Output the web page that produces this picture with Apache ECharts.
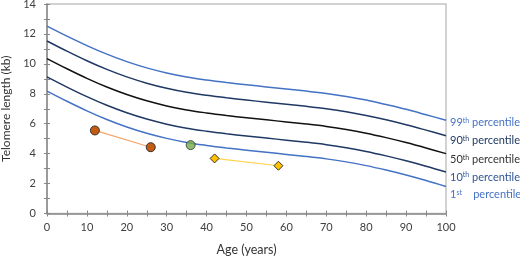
<!DOCTYPE html>
<html>
<head>
<meta charset="utf-8">
<script src="https://cdn.jsdelivr.net/npm/echarts@6/dist/echarts.min.js"></script>
<style>
  html, body { margin: 0; padding: 0; background: #fff; }
  #chart { width: 520px; height: 256px; }
</style>
</head>
<body>
<div id="chart"></div>
<script>
const ages = [0, 5, 10, 15, 20, 25, 30, 35, 40, 45, 50, 55, 60, 65, 70, 75, 80, 85, 90, 95, 100];

const p99 = [12.52, 11.85, 11.22, 10.65, 10.15, 9.73, 9.39, 9.12, 8.92, 8.75, 8.6, 8.46, 8.32, 8.18, 8.02, 7.82, 7.58, 7.28, 6.96, 6.6, 6.23];
const p90 = [11.53, 10.85, 10.21, 9.63, 9.13, 8.71, 8.37, 8.1, 7.9, 7.73, 7.58, 7.44, 7.3, 7.16, 7.0, 6.8, 6.55, 6.26, 5.93, 5.57, 5.2];
const p50 = [10.35, 9.67, 9.03, 8.45, 7.95, 7.53, 7.19, 6.92, 6.72, 6.55, 6.4, 6.26, 6.12, 5.98, 5.82, 5.62, 5.37, 5.07, 4.74, 4.38, 4.0];
const p10 = [9.13, 8.45, 7.81, 7.23, 6.73, 6.31, 5.97, 5.7, 5.5, 5.33, 5.18, 5.04, 4.9, 4.76, 4.6, 4.4, 4.15, 3.85, 3.52, 3.16, 2.77];
const p1 = [8.18, 7.5, 6.86, 6.28, 5.78, 5.36, 5.02, 4.75, 4.55, 4.38, 4.23, 4.09, 3.95, 3.81, 3.65, 3.45, 3.2, 2.9, 2.57, 2.2, 1.8];

const orangeAges = [12, 26];
const orangeValues = [5.55, 4.43];
const greenAges = [36];
const greenValues = [4.57];
const yellowAges = [42, 58];
const yellowValues = [3.68, 3.19];

const xTicks = [0, 10, 20, 30, 40, 50, 60, 70, 80, 90, 100];
const yTicks = [0, 2, 4, 6, 8, 10, 12, 14];

const font = "Lato, 'Open Sans', sans-serif";
const pair = (xs, ys) => xs.map((x, i) => [x, ys[i]]);

const curves = [
  { num: "99", sup: "th", gap: " ", values: p99, color: "#4472C4", text: "#4472C4", dy: 2 },
  { num: "90", sup: "th", gap: " ", values: p90, color: "#1F3864", text: "#1F3864", dy: 5 },
  { num: "50", sup: "th", gap: " ", values: p50, color: "#111111", text: "#333333", dy: 6 },
  { num: "10", sup: "th", gap: " ", values: p10, color: "#1F3864", text: "#2F5597", dy: 5 },
  { num: "1", sup: "st", gap: "    ", values: p1, color: "#4472C4", text: "#4472C4", dy: 8 },
];

const curveSeries = curves.map((c) => ({
  type: "line",
  data: pair(ages, c.values),
  smooth: 0.35,
  symbol: "none",
  lineStyle: { color: c.color, width: 1.5 },
  endLabel: {
    show: true,
    distance: 4,
    offset: [0, c.dy],
    formatter: () => `{n|${c.num}}{s|${c.sup}}{p|${c.gap}percentile}`,
    rich: {
      n: { fontFamily: font, fontSize: 11, color: c.text },
      s: { fontFamily: font, fontSize: 7, color: c.text, verticalAlign: "top", padding: [0, 0, 4, 0] },
      p: { fontFamily: font, fontSize: 11, color: c.text },
    },
  },
  z: 2,
}));

const markerBorder = { borderColor: "#333333", borderWidth: 1 };
const tickStyle = { color: "#888" };

const chart = echarts.init(document.getElementById("chart"));
chart.setOption({
  animation: false,
  grid: {
    left: 47, right: 74, top: 4, bottom: 42.5,
    containLabel: false, outerBoundsMode: "none",
    show: true, borderColor: "#c4c4c4", borderWidth: 1.5,
  },
  xAxis: [
    {
      type: "value", min: 0, max: 100, interval: 10,
      name: "Age (years)", nameLocation: "middle", nameGap: 30,
      nameTextStyle: { fontFamily: font, fontSize: 12.5, color: "#333" },
      axisLine: { show: true, lineStyle: { color: "#888", width: 1.5 } },
      axisTick: { show: true, length: 3, lineStyle: tickStyle },
      minorTick: { show: true, splitNumber: 2, length: 3, lineStyle: tickStyle },
      axisLabel: {
        fontFamily: font, fontSize: 11, color: "#404040", margin: 8,
        formatter: (v) => (xTicks.includes(v) ? String(v) : ""),
      },
      splitLine: { show: false },
    },
    {
      type: "value", min: 0, max: 100, interval: 10, position: "bottom",
      axisLine: { show: false },
      axisTick: { show: true, inside: true, length: 3, lineStyle: tickStyle },
      minorTick: { show: true, splitNumber: 2, length: 3, lineStyle: tickStyle },
      axisLabel: { show: false },
      splitLine: { show: false },
    },
  ],
  yAxis: [
    {
      type: "value", min: 0, max: 14, interval: 2,
      name: "Telomere length (kb)", nameLocation: "middle", nameGap: 34, nameRotate: 90,
      nameTextStyle: { fontFamily: font, fontSize: 12, color: "#333" },
      axisLine: { show: true, lineStyle: { color: "#888", width: 1.5 } },
      axisTick: { show: true, length: 3, lineStyle: tickStyle },
      minorTick: { show: true, splitNumber: 2, length: 3, lineStyle: tickStyle },
      axisLabel: {
        fontFamily: font, fontSize: 11, color: "#404040", margin: 11,
        formatter: (v) => (yTicks.includes(v) ? String(v) : ""),
      },
      splitLine: { show: false },
    },
    {
      type: "value", min: 0, max: 14, interval: 2, position: "left",
      axisLine: { show: false },
      axisTick: { show: true, inside: true, length: 3, lineStyle: tickStyle },
      minorTick: { show: true, splitNumber: 2, length: 3, lineStyle: tickStyle },
      axisLabel: { show: false },
      splitLine: { show: false },
    },
  ],
  series: [
    ...curveSeries,
    {
      type: "line",
      data: pair(orangeAges, orangeValues),
      symbol: "circle", symbolSize: 9,
      lineStyle: { color: "#F4A46A", width: 1.2 },
      itemStyle: { color: "#C55A11", ...markerBorder },
      z: 3,
    },
    {
      type: "scatter",
      data: pair(greenAges, greenValues),
      symbol: "circle", symbolSize: 9,
      itemStyle: { color: "#70AD47", ...markerBorder },
      z: 3,
    },
    {
      type: "line",
      data: pair(yellowAges, yellowValues),
      symbol: "diamond", symbolSize: 9,
      lineStyle: { color: "#FFD34D", width: 1.2 },
      itemStyle: { color: "#FFC000", ...markerBorder },
      z: 3,
    },
  ],
});
</script>
</body>
</html>
